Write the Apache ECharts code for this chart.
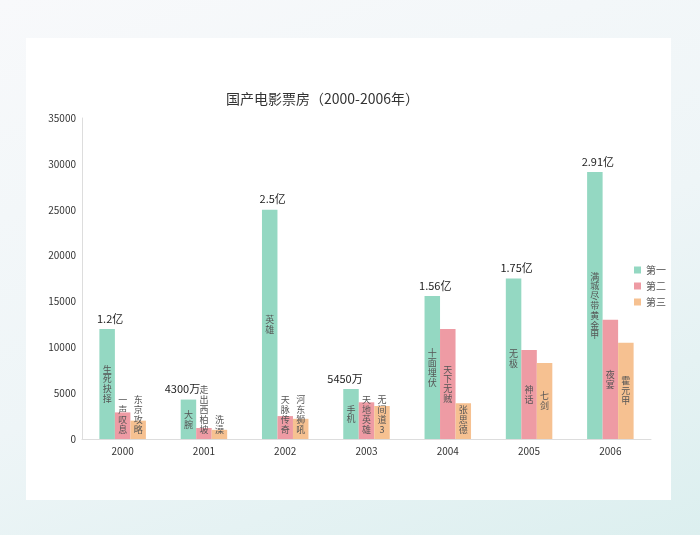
<!DOCTYPE html>
<html>
<head>
<meta charset="utf-8">
<script src="https://cdn.jsdelivr.net/npm/echarts@6/dist/echarts.min.js"></script>
<style>
  html, body { margin: 0; padding: 0; width: 700px; height: 535px; overflow: hidden; }
  body { background: linear-gradient(160deg, #f8f9fb 0%, #eef5f7 55%, #dcefef 100%); position: relative; }
  #panel { position: absolute; left: 26px; top: 38px; width: 645px; height: 462px; background: #fff; }
  #chart { position: absolute; left: 0; top: 0; width: 700px; height: 535px; }
</style>
</head>
<body>
<div id="panel"></div>
<div id="chart"></div>
<script>
  // Box office (10k yuan), top three films per year
  var years = ['2000', '2001', '2002', '2003', '2004', '2005', '2006'];
  var seriesNames = ['第一', '第二', '第三'];
  var firstValues = [12000, 4300, 25000, 5450, 15600, 17500, 29100];
  var secondValues = [2900, 1200, 2500, 4000, 12000, 9700, 13000];
  var thirdValues = [2000, 1000, 2200, 3600, 3900, 8300, 10500];
  var firstFilms = ['生死抉择', '大腕', '英雄', '手机', '十面埋伏', '无极', '满城尽带黄金甲'];
  var secondFilms = ['一声叹息', '走出西柏坡', '天脉传奇', '天地英雄', '天下无贼', '神话', '夜宴'];
  var thirdFilms = ['东京攻略', '洗澡', '河东狮吼', '无间道3', '张思德', '七剑', '霍元甲'];
  var topLabels = ['1.2亿', '4300万', '2.5亿', '5450万', '1.56亿', '1.75亿', '2.91亿'];
  var colors = ['#94d8c2', '#ee9ba4', '#f6c191'];

  var chart = echarts.init(document.getElementById('chart'), null, { renderer: 'canvas' });

  function vertical(name) {
    return name.split('').join('\n');
  }

  // keep the inner label above the axis when the bar is too short for it
  function keepInside(p) {
    var limit = p.rect.y + p.rect.height - 5;
    var over = p.labelRect.y + p.labelRect.height - limit;
    if (over > 0) {
      return { dy: -over };
    }
  }

  function barSeries(idx, values, films) {
    return {
      name: seriesNames[idx],
      type: 'bar',
      stack: 's' + idx,
      barWidth: 15.5,
      barGap: '0%',
      data: values,
      itemStyle: { color: colors[idx] },
      label: {
        show: true,
        position: 'inside',
        formatter: function (p) { return vertical(films[p.dataIndex]); },
        color: '#555',
        fontSize: 9,
        lineHeight: 9.8,
        fontFamily: 'Noto Sans CJK SC'
      },
      labelLayout: keepInside
    };
  }

  // zero-height bar stacked on the leading bar, carries the total label
  var topSeries = {
    name: seriesNames[0],
    type: 'bar',
    stack: 's0',
    barWidth: 15.5,
    data: topLabels.map(function (t) {
      return { value: 0, label: { offset: [/万$/.test(t) ? -6 : 3, 0] } };
    }),
    itemStyle: { color: 'transparent' },
    silent: true,
    label: {
      show: true,
      position: 'top',
      distance: 5,
      formatter: function (p) { return topLabels[p.dataIndex]; },
      color: '#222',
      fontSize: 11,
      fontFamily: 'Noto Sans CJK SC'
    }
  };

  var option = {
    animation: false,
    textStyle: { fontFamily: 'Noto Sans CJK SC' },
    title: {
      text: '国产电影票房（2000-2006年）',
      left: 221,
      top: 87,
      textStyle: { fontSize: 14, fontWeight: 'normal', color: '#333' }
    },
    legend: {
      data: seriesNames,
      orient: 'vertical',
      left: 629,
      top: 260,
      itemWidth: 7,
      itemHeight: 7,
      itemGap: 6,
      icon: 'rect',
      textStyle: { fontSize: 10, color: '#555' }
    },
    grid: { left: 82, right: 49, top: 118, bottom: 96 },
    xAxis: {
      type: 'category',
      data: years,
      axisLine: { lineStyle: { color: '#ddd' } },
      axisTick: { show: false },
      axisLabel: { color: '#333', fontSize: 10, margin: 7 }
    },
    yAxis: {
      type: 'value',
      min: 0,
      max: 35000,
      interval: 5000,
      axisLine: { show: true, lineStyle: { color: '#ddd' } },
      axisTick: { show: false },
      splitLine: { show: false },
      axisLabel: { color: '#333', fontSize: 10, margin: 6, formatter: function (v) { return String(v); } }
    },
    series: [
      barSeries(0, firstValues, firstFilms),
      barSeries(1, secondValues, secondFilms),
      barSeries(2, thirdValues, thirdFilms),
      topSeries
    ]
  };

  chart.setOption(option);
</script>
</body>
</html>
